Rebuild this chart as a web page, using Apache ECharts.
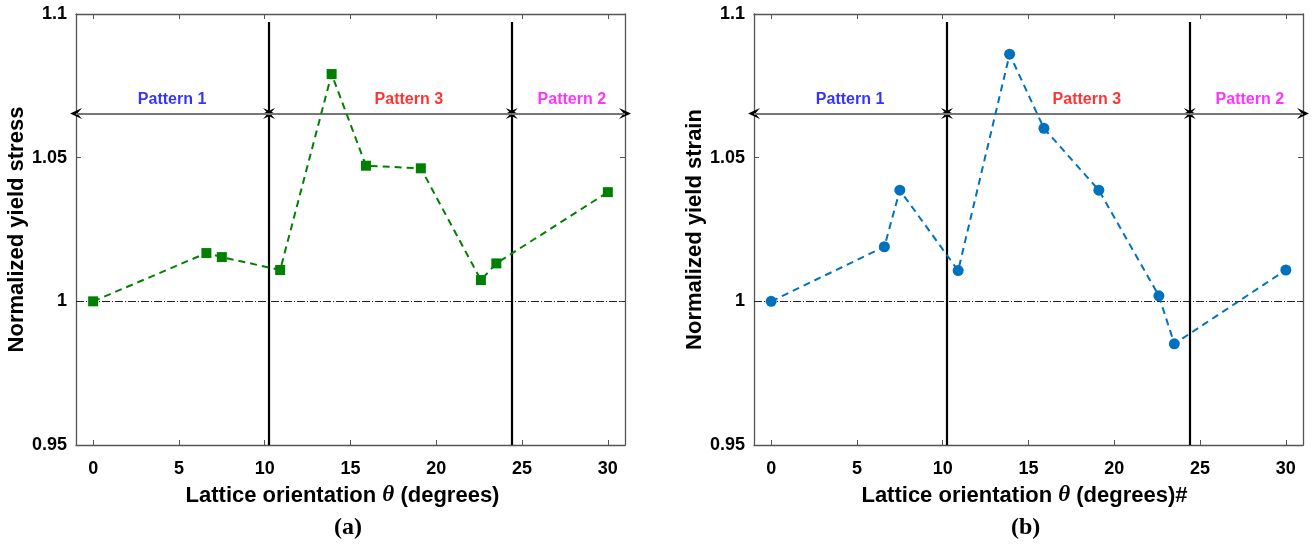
<!DOCTYPE html>
<html>
<head>
<meta charset="utf-8">
<script src="https://cdn.jsdelivr.net/npm/echarts@6/dist/echarts.min.js"></script>
<style>
  html, body { margin: 0; padding: 0; background: #fff; }
  #chart { width: 1312px; height: 548px; }
</style>
</head>
<body>
<div id="chart"></div>
<script>
// lattice orientation (deg) of each sample
const thetaVals = [0, 6.6, 7.5, 10.9, 13.9, 15.9, 19.1, 22.6, 23.5, 30];
// normalized yield stress, panel (a)
const stressVals = [1.0, 1.0168, 1.0154, 1.0109, 1.0791, 1.0472, 1.0463, 1.0074, 1.0132, 1.038];
// normalized yield strain, panel (b)
const strainVals = [1.0, 1.019, 1.0387, 1.0107, 1.086, 1.0602, 1.0387, 1.0019, 0.9852, 1.0109];

const xTicks = [0, 5, 10, 15, 20, 25, 30];
const boundaries = [10.25, 24.4];
const patternNames = ['Pattern 1', 'Pattern 3', 'Pattern 2'];
const patternCenters = [4.6, 18.4, 27.9];
const patternColors = ['#0000ff', '#ff0000', '#ff00ff'];
const arrowLevel = 1.0654;
const labelLevel = 1.0702;
const lineTop = 1.0972;

const X_MIN = -1, X_MAX = 31, Y_MIN = 0.95, Y_MAX = 1.1;
const FONT = 'Liberation Sans, Arial, sans-serif';

var chartDom = document.getElementById('chart');
var myChart = echarts.init(chartDom);

const grids = [
  { left: 76, top: 14, width: 549, height: 431 },
  { left: 754, top: 14, width: 549, height: 431 }
];

const xTitles = [
  'Lattice orientation {t|θ} (degrees)',
  'Lattice orientation {t|θ} (degrees)#'
];
const yTitles = ['Normalized yield stress', 'Normalized yield strain'];

const makeXAxis = (gi, pos) => ({
  type: 'value',
  gridIndex: gi,
  position: pos,
  min: X_MIN,
  max: X_MAX,
  name: pos === 'bottom' ? xTitles[gi] : '',
  nameLocation: 'middle',
  nameGap: 39,
  nameTextStyle: {
    fontFamily: FONT, fontWeight: 'bold', fontSize: 22, color: '#000',
    padding: gi === 0 ? [0, 16, 0, 0] : [0, 8, 0, 0],
    rich: { t: { fontFamily: 'Liberation Serif, serif', fontStyle: 'italic', fontSize: 23, color: '#000' } }
  },
  axisLine: { show: true, onZero: false, lineStyle: { color: '#555', width: 1.3 } },
  axisTick: { show: true, inside: true, length: 5, customValues: xTicks, lineStyle: { color: '#555' } },
  axisLabel: {
    show: pos === 'bottom', customValues: xTicks, margin: 15,
    fontFamily: FONT, fontWeight: 'bold', fontSize: 18, color: '#000'
  },
  splitLine: { show: false }
});

const makeYAxis = (gi, pos) => ({
  type: 'value',
  gridIndex: gi,
  position: pos,
  min: Y_MIN,
  max: Y_MAX,
  interval: 0.05,
  name: pos === 'left' ? yTitles[gi] : '',
  nameLocation: 'middle',
  nameGap: 47,
  nameTextStyle: { fontFamily: FONT, fontWeight: 'bold', fontSize: 22, color: '#000' },
  axisLine: { show: true, onZero: false, lineStyle: { color: '#555', width: 1.3 } },
  axisTick: { show: true, inside: true, length: 5, lineStyle: { color: '#555' } },
  axisLabel: {
    show: pos === 'left', margin: 9,
    fontFamily: FONT, fontWeight: 'bold', fontSize: 18, color: '#000'
  },
  splitLine: { show: false }
});

const dataSeries = (gi, vals, color, symbol, size) => ({
  type: 'line',
  xAxisIndex: gi * 2,
  yAxisIndex: gi * 2,
  data: thetaVals.map((t, i) => [t, vals[i]]),
  symbol: symbol,
  symbolSize: size,
  showSymbol: true,
  z: 10,
  itemStyle: { color: color },
  lineStyle: { color: color, width: 2, type: [7, 5] },
  animation: false
});

const refSeries = (gi) => {
  const ends = [X_MIN].concat(boundaries, [X_MAX]);
  const arrows = [];
  for (let i = 0; i < ends.length - 1; i++) {
    arrows.push([{ coord: [ends[i], arrowLevel] }, { coord: [ends[i + 1], arrowLevel] }]);
  }
  return [
    {
      type: 'line',
      xAxisIndex: gi * 2,
      yAxisIndex: gi * 2,
      data: [],
      silent: true,
      animation: false,
      z: 3,
      markLine: {
        silent: true,
        symbol: 'none',
        label: { show: false },
        animation: false,
        data: [
          { yAxis: 1, lineStyle: { color: '#222', width: 1, type: [8, 2, 1, 2] } }
        ].concat(boundaries.map(b => [
          { coord: [b, lineTop], lineStyle: { color: '#000', width: 2.2, type: 'solid' } },
          { coord: [b, Y_MIN] }
        ]))
      }
    },
    {
      // black arrowheads
      type: 'line',
      xAxisIndex: gi * 2,
      yAxisIndex: gi * 2,
      data: [],
      silent: true,
      animation: false,
      z: 2,
      markLine: {
        silent: true,
        symbol: ['path://M0,10 L5,0 L10,10 L5,6 Z', 'path://M0,10 L5,0 L10,10 L5,6 Z'],
        symbolSize: [11, 12],
        label: { show: false },
        animation: false,
        lineStyle: { color: '#000', width: 1.6, type: 'solid' },
        data: arrows
      }
    },
    {
      // grey shaft over the arrows
      type: 'line',
      xAxisIndex: gi * 2,
      yAxisIndex: gi * 2,
      data: [],
      silent: true,
      animation: false,
      z: 2.5,
      markLine: {
        silent: true,
        symbol: 'none',
        label: { show: false },
        animation: false,
        lineStyle: { color: '#777', width: 1.8, type: 'solid' },
        data: arrows
      }
    },
    {
      type: 'scatter',
      xAxisIndex: gi * 2,
      yAxisIndex: gi * 2,
      symbolSize: 0,
      silent: true,
      animation: false,
      data: patternCenters.map((x, i) => ({
        name: patternNames[i],
        value: [x, labelLevel],
        label: { color: patternColors[i] }
      })),
      label: {
        show: true,
        position: 'inside',
        formatter: p => p.name,
        fontFamily: FONT, fontWeight: 'bold', fontSize: 16
      }
    }
  ];
};

let option = {
  backgroundColor: '#fff',
  animation: false,
  grid: grids,
  xAxis: [makeXAxis(0, 'bottom'), makeXAxis(0, 'top'), makeXAxis(1, 'bottom'), makeXAxis(1, 'top')],
  yAxis: [makeYAxis(0, 'left'), makeYAxis(0, 'right'), makeYAxis(1, 'left'), makeYAxis(1, 'right')],
  graphic: [
    { type: 'text', left: 334, top: 516, style: { text: '(a)', font: 'bold 24px "Liberation Serif", serif', fill: '#000' } },
    { type: 'text', left: 1011, top: 516, style: { text: '(b)', font: 'bold 24px "Liberation Serif", serif', fill: '#000' } }
  ],
  series: [
    dataSeries(0, stressVals, '#008000', 'rect', 10),
    dataSeries(1, strainVals, '#0072bd', 'circle', 11)
  ].concat(refSeries(0), refSeries(1))
};

option && myChart.setOption(option);
</script>
</body>
</html>
